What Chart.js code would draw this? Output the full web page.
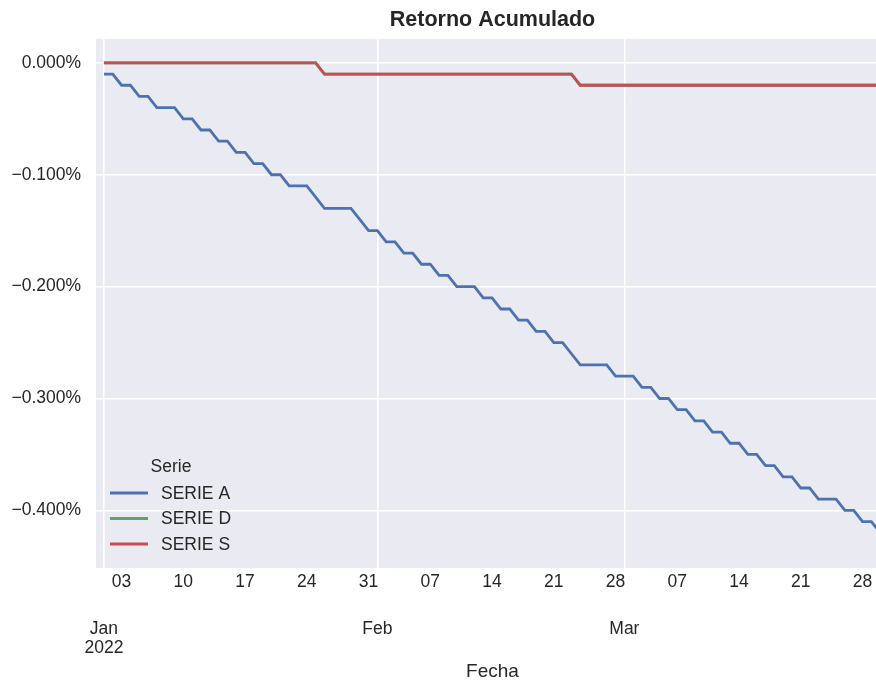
<!DOCTYPE html>
<html>
<head>
<meta charset="utf-8">
<script src="https://cdn.jsdelivr.net/npm/chart.js@4.4.1/dist/chart.umd.min.js"></script>
<style>
  html, body { margin: 0; padding: 0; background: #fff; overflow: hidden; }
  #wrap { width: 889px; height: 681px; }
</style>
</head>
<body>
<div id="wrap"><canvas id="retornoChart"></canvas></div>
<script>
// ---- datos (retorno acumulado en %) ----
const fechaInicio = '2022-01-01';
const numDias = 90;

const serieA = [
  -0.01, -0.01, -0.02, -0.02, -0.03, -0.03, -0.04, -0.04, -0.04, -0.05,
  -0.05, -0.06, -0.06, -0.07, -0.07, -0.08, -0.08, -0.09, -0.09, -0.10,
  -0.10, -0.11, -0.11, -0.11, -0.12, -0.13, -0.13, -0.13, -0.13, -0.14,
  -0.15, -0.15, -0.16, -0.16, -0.17, -0.17, -0.18, -0.18, -0.19, -0.19,
  -0.20, -0.20, -0.20, -0.21, -0.21, -0.22, -0.22, -0.23, -0.23, -0.24,
  -0.24, -0.25, -0.25, -0.26, -0.27, -0.27, -0.27, -0.27, -0.28, -0.28,
  -0.28, -0.29, -0.29, -0.30, -0.30, -0.31, -0.31, -0.32, -0.32, -0.33,
  -0.33, -0.34, -0.34, -0.35, -0.35, -0.36, -0.36, -0.37, -0.37, -0.38,
  -0.38, -0.39, -0.39, -0.39, -0.40, -0.40, -0.41, -0.41, -0.42, -0.43
];

const serieS = [
   0.00,  0.00,  0.00,  0.00,  0.00,  0.00,  0.00,  0.00,  0.00,  0.00,
   0.00,  0.00,  0.00,  0.00,  0.00,  0.00,  0.00,  0.00,  0.00,  0.00,
   0.00,  0.00,  0.00,  0.00,  0.00, -0.01, -0.01, -0.01, -0.01, -0.01,
  -0.01, -0.01, -0.01, -0.01, -0.01, -0.01, -0.01, -0.01, -0.01, -0.01,
  -0.01, -0.01, -0.01, -0.01, -0.01, -0.01, -0.01, -0.01, -0.01, -0.01,
  -0.01, -0.01, -0.01, -0.01, -0.02, -0.02, -0.02, -0.02, -0.02, -0.02,
  -0.02, -0.02, -0.02, -0.02, -0.02, -0.02, -0.02, -0.02, -0.02, -0.02,
  -0.02, -0.02, -0.02, -0.02, -0.02, -0.02, -0.02, -0.02, -0.02, -0.02,
  -0.02, -0.02, -0.02, -0.02, -0.02, -0.02, -0.02, -0.02, -0.02, -0.02
];

// SERIE D queda oculta bajo SERIE S (mismos valores)
const serieD = serieS.slice();

// ticks del eje x (dias desde el 1 de enero)
const diasSemana = [2, 9, 16, 23, 30, 37, 44, 51, 58, 65, 72, 79, 86];
const etiquetasSemana = ['03', '10', '17', '24', '31', '07', '14', '21', '28', '07', '14', '21', '28'];
const diasMes = [0, 31, 59];
const etiquetasMes = [['Jan', '2022'], 'Feb', 'Mar'];

const ticksY = [-0.4, -0.3, -0.2, -0.1, 0.0];

// ---- construccion ----
const t0 = Date.parse(fechaInicio + 'T00:00:00Z');
const fechas = [];
for (let i = 0; i < numDias; i++) {
    fechas.push(new Date(t0 + i * 86400000).toISOString().slice(0, 10));
}
const dia = f => (Date.parse(f + 'T00:00:00Z') - t0) / 86400000;
const puntos = serie => serie.map((v, i) => ({ x: dia(fechas[i]), y: v }));

const FONT = "'Liberation Sans', Arial, sans-serif";
const TXT = '#262626';

const fondoPanel = {
    id: 'fondoPanel',
    beforeDraw(chart) {
        const a = chart.chartArea, ctx = chart.ctx;
        ctx.save();
        ctx.fillStyle = '#EAEAF2';
        ctx.fillRect(a.left, a.top, a.right - a.left, a.bottom - a.top);
        ctx.restore();
    }
};

// leyenda dentro del panel (abajo a la izquierda), sin marco
const leyendaSerie = {
    id: 'leyendaSerie',
    afterDatasetsDraw(chart) {
        const a = chart.chartArea, ctx = chart.ctx;
        ctx.save();
        ctx.font = '17.5px ' + FONT;
        ctx.fillStyle = TXT;
        ctx.textBaseline = 'middle';
        ctx.textAlign = 'center';
        ctx.fillText('Serie', a.left + 75, a.bottom - 101);
        ctx.textAlign = 'left';
        chart.data.datasets.forEach((ds, i) => {
            const y = a.bottom - 75 + i * 25.5;
            ctx.strokeStyle = ds.borderColor;
            ctx.lineWidth = 2.8;
            ctx.beginPath();
            ctx.moveTo(a.left + 14, y);
            ctx.lineTo(a.left + 52, y);
            ctx.stroke();
            ctx.fillStyle = TXT;
            ctx.fillText(ds.label, a.left + 65, y + 1);
        });
        ctx.restore();
    }
};

new Chart(document.getElementById('retornoChart'), {
    type: 'line',
    data: {
        datasets: [
            { label: 'SERIE A', data: puntos(serieA), borderColor: '#4C72B0', order: 2 },
            { label: 'SERIE D', data: puntos(serieD), borderColor: '#55A868', order: 1 },
            { label: 'SERIE S', data: puntos(serieS), borderColor: '#C44E52', order: 0 }
        ]
    },
    options: {
        responsive: true,
        maintainAspectRatio: false,
        animation: false,
        layout: { padding: 0 },
        elements: {
            point: { radius: 0 },
            line: { borderWidth: 2.8, tension: 0, fill: false }
        },
        plugins: {
            legend: { display: false },
            tooltip: { enabled: false },
            title: {
                display: true,
                text: 'Retorno Acumulado',
                fullSize: false,
                color: TXT,
                font: { family: FONT, size: 21.5, weight: 'bold', lineHeight: 1.2 },
                padding: { top: 7, bottom: 6 }
            }
        },
        scales: {
            x: {
                type: 'linear',
                position: 'bottom',
                weight: 0,
                min: -0.9,
                max: 89,
                grid: { display: false, drawTicks: false },
                border: { display: false },
                afterBuildTicks: s => { s.ticks = diasSemana.map(v => ({ value: v })); },
                ticks: {
                    autoSkip: false,
                    maxRotation: 0,
                    padding: 3.5,
                    color: TXT,
                    font: { family: FONT, size: 17.5 },
                    callback: v => etiquetasSemana[diasSemana.indexOf(v)]
                }
            },
            x2: {
                type: 'linear',
                axis: 'x',
                position: 'bottom',
                weight: 1,
                min: -0.9,
                max: 89,
                grid: { color: '#FFFFFF', lineWidth: 1.6, drawTicks: false },
                border: { display: false },
                afterBuildTicks: s => { s.ticks = diasMes.map(v => ({ value: v })); },
                ticks: {
                    autoSkip: false,
                    maxRotation: 0,
                    padding: 23.4,
                    color: TXT,
                    font: { family: FONT, size: 17.5, lineHeight: 1.1 },
                    callback: v => etiquetasMes[diasMes.indexOf(v)]
                },
                title: {
                    display: true,
                    text: 'Fecha',
                    color: TXT,
                    font: { family: FONT, size: 19, lineHeight: 1.0 },
                    padding: { top: -19.3, bottom: 0 }
                }
            },
            y: {
                min: -0.4515,
                max: 0.0215,
                grid: { color: '#FFFFFF', lineWidth: 1.6, drawTicks: false },
                border: { display: false },
                afterBuildTicks: s => { s.ticks = ticksY.map(v => ({ value: v })); },
                afterFit: s => { s.width = 96; },
                ticks: {
                    padding: 15,
                    color: TXT,
                    font: { family: FONT, size: 17.5 },
                    callback: v => (v < -1e-9 ? '\u2212' : '') + Math.abs(v).toFixed(3) + '%'
                }
            }
        }
    },
    plugins: [fondoPanel, leyendaSerie]
});
</script>
</body>
</html>
